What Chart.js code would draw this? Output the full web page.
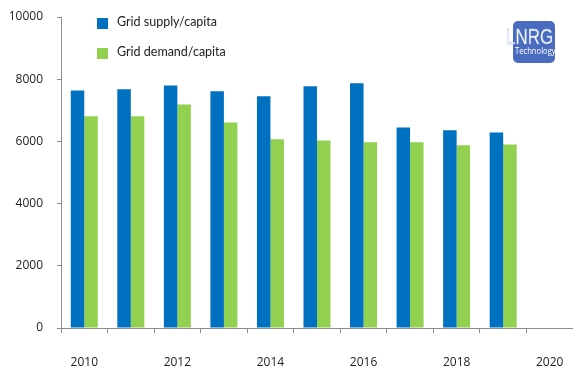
<!DOCTYPE html>
<html>
<head>
<meta charset="utf-8">
<script src="https://cdn.jsdelivr.net/npm/chart.js@4"></script>
<style>
  body { margin: 0; background: #fff; }
  #wrap { position: relative; width: 573px; height: 379px; }
  #logo { position: absolute; left: 513px; top: 21px; width: 42px; height: 42px; background: #4a6cc0; border-radius: 5px; }
  #logo span { position: absolute; display: block; white-space: nowrap; color: #fff; transform-origin: left top; }
  #logo .big { left: -7px; top: 5px; font: 22px/22px "Liberation Sans", Arial, sans-serif;
    transform: scaleX(0.77); -webkit-text-stroke: 0.4px #9fb3e3; }
  #logo .small { left: 2px; top: 25px; font: 9px/9px "Open Sans", sans-serif; transform: scaleX(0.85); }
</style>
</head>
<body>
<div id="wrap">
  <canvas id="chart" width="573" height="379"></canvas>
  <div id="logo"><span class="big">LNRG</span><span class="small">Technology</span></div>
</div>
<script>
// data
const years = ['2010', '2011', '2012', '2013', '2014', '2015', '2016', '2017', '2018', '2019', '2020'];
const supplyPerCapita = [7640, 7680, 7800, 7610, 7450, 7770, 7870, 6450, 6360, 6290, null];
const demandPerCapita = [6810, 6810, 7190, 6610, 6070, 6030, 5970, 5970, 5880, 5900, null];
const seriesNames = ['Grid supply/capita', 'Grid demand/capita'];
const seriesColors = ['#0070c0', '#92d050'];

// legend drawn inside the plot, top left
const innerLegend = {
  id: 'innerLegend',
  afterDraw(chart) {
    const ctx = chart.ctx;
    ctx.save();
    ctx.font = '12.5px Lato, sans-serif';
    ctx.textBaseline = 'middle';
    chart.data.datasets.forEach((ds, i) => {
      const y = 18 + i * 30;
      ctx.fillStyle = ds.backgroundColor;
      ctx.fillRect(97, y, 11, 11);
      ctx.fillStyle = '#222';
      ctx.fillText(ds.label, 117, y + 4);
    });
    ctx.restore();
  }
};

function createChart() {
  const ctx = document.getElementById('chart');
  new Chart(ctx, {
    type: 'bar',
    data: {
      labels: years,
      datasets: [
        { label: seriesNames[0], data: supplyPerCapita, backgroundColor: seriesColors[0] },
        { label: seriesNames[1], data: demandPerCapita, backgroundColor: seriesColors[1] }
      ]
    },
    options: {
      responsive: false,
      animation: false,
      devicePixelRatio: 1,
      categoryPercentage: 0.58,
      barPercentage: 1.0,
      layout: { padding: { top: 17, right: 0, left: 0, bottom: 0 } },
      plugins: { legend: { display: false }, tooltip: { enabled: false } },
      scales: {
        x: {
          offset: true,
          grid: { offset: true, drawOnChartArea: false, tickLength: 5, color: '#8c8c8c' },
          border: { color: '#8c8c8c' },
          ticks: {
            autoSkip: false, maxRotation: 0, padding: 22, color: '#222',
            font: { family: 'Open Sans', size: 12 },
            callback: (v, i) => (i % 2 === 0 ? years[i] : '')
          },
          afterFit: (scale) => { scale.height = 51; scale.paddingRight = 0; }
        },
        y: {
          min: 0,
          max: 10000,
          grid: { drawOnChartArea: false, tickLength: 4, color: '#8c8c8c' },
          border: { color: '#8c8c8c' },
          ticks: {
            stepSize: 2000, padding: 14, color: '#222',
            font: { family: 'Open Sans', size: 12 },
            callback: (v) => String(v)
          },
          afterFit: (scale) => { scale.width = 61; scale.paddingTop = 0; scale.paddingBottom = 0; }
        }
      }
    },
    plugins: [innerLegend]
  });
}

if (typeof Chart === 'undefined') {
  window.addEventListener('load', createChart);
} else {
  createChart();
}
</script>
</body>
</html>
